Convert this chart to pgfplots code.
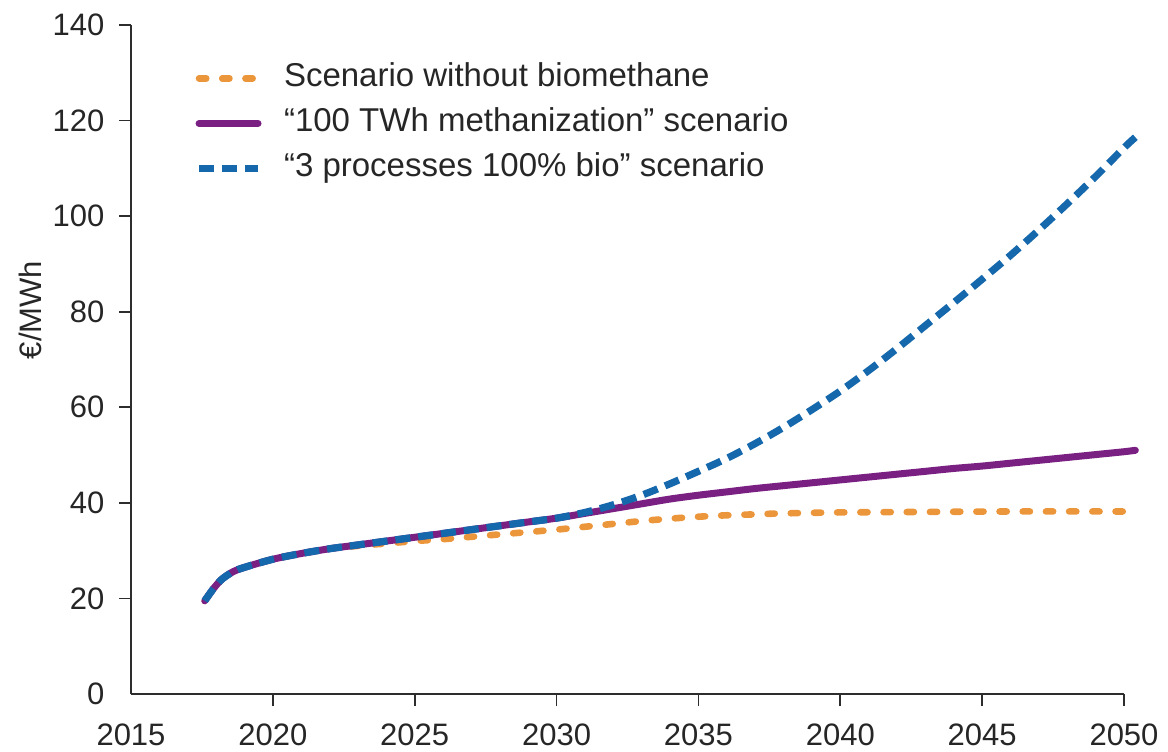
\documentclass[border=0pt]{standalone}
\usepackage{fontspec}
\setmainfont{Liberation Sans}
\usepackage{pgfplots}
\pgfplotsset{compat=1.18}
\definecolor{corange}{RGB}{236,150,60}
\definecolor{cpurple}{RGB}{122,32,130}
\definecolor{cblue}{RGB}{22,104,172}
\definecolor{caxis}{RGB}{45,45,45}
\begin{document}
\fontsize{15.5}{18}\selectfont
\begin{tikzpicture}
\begin{axis}[
  scale only axis,
  width=496.5pt, height=334.5pt,
  xmin=2015, xmax=2050, ymin=0, ymax=140,
  axis lines=left,
  axis line style={-, caxis, line width=0.9pt},
  every tick/.style={caxis, line width=0.9pt},
  tick align=outside,
  major tick length=6pt,
  xtick={2020,2025,...,2050},
  ytick={20,40,...,140},
  extra x ticks={2015},
  extra y ticks={0},
  extra tick style={major tick style={draw=none}},
  xticklabel style={/pgf/number format/1000 sep={}, text=black!85, yshift=-3.8pt},
  yticklabel style={text=black!85, xshift=-2pt},
  /pgf/number format/assume math mode=true,
  x tick label style={/pgf/number format/1000 sep={}},
  ylabel={€/MWh},
  ylabel style={at={(axis description cs:-0.1017,0.574)}, anchor=center, rotate=0, text=black!85},
  clip=false,
  legend cell align=left,
  legend style={draw=none, fill=none, inner sep=0pt,
    at={(axis description cs:0.0645,0.9537)}, anchor=north west,
    nodes={inner xsep=0pt, inner ysep=3.5pt, text height=11.5pt, text depth=3.5pt, text=black!85, font=\fontsize{16.5}{19}\selectfont},
    row sep=0.5pt},
  legend image code/.code={\path[draw=none] (0pt,0pt) -- (44pt,0pt); \draw[#1] (1.5pt,0pt) -- (31pt,0pt);},
]
\addplot[corange, line width=3.3pt, line cap=round, dash pattern=on 3.6pt off 8pt, smooth] coordinates {
(2017.6,19.5) (2017.9,22.0) (2018.2,24.0) (2018.6,25.6) (2019,26.5) (2020,28.2) (2021,29.4) (2022,30.4)
(2023,31.0) (2024,31.5) (2025,32.0) (2026,32.4) (2027,32.9) (2028,33.4) (2029,33.9) (2030,34.4)
(2031,35.0) (2032,35.6) (2033,36.2) (2034,36.7) (2035,37.1) (2036,37.4) (2037,37.6) (2038,37.8)
(2040,38.0) (2043,38.1) (2046,38.2) (2050.2,38.2)
};
\addlegendentry{Scenario without biomethane}
\addplot[cpurple, line width=3.5pt, line cap=round, smooth] coordinates {
(2017.6,19.5) (2017.9,22.0) (2018.2,24.0) (2018.6,25.6) (2019,26.5) (2020,28.2) (2021,29.4) (2022,30.4)
(2023,31.2) (2024,32.0) (2025,32.8) (2026,33.6) (2027,34.4) (2028,35.2) (2029,36.0) (2030,36.8)
(2031,37.8) (2032,38.8) (2033,39.8) (2034,40.8) (2035,41.6) (2036,42.3) (2037,43.0) (2038,43.6)
(2039,44.2) (2040,44.8) (2041,45.4) (2042,46.0) (2043,46.6) (2044,47.2) (2045,47.7) (2046,48.3)
(2047,48.9) (2048,49.5) (2049,50.1) (2050,50.7) (2050.4,51.0)
};
\addlegendentry{“100 TWh methanization” scenario}
\addplot[cblue, line width=3.6pt, dash pattern=on 7.5pt off 4pt, smooth] coordinates {
(2017.6,19.5) (2017.9,22.0) (2018.2,24.0) (2018.6,25.6) (2019,26.5) (2020,28.2) (2021,29.4) (2022,30.4)
(2023,31.2) (2024,32.0) (2025,32.8) (2026,33.6) (2027,34.4) (2028,35.2) (2029,36.0) (2030,36.8)
(2031,38.0) (2032,39.6) (2033,41.6) (2034,44.0) (2035,46.6) (2036,49.3) (2037,52.4) (2038,55.8)
(2039,59.5) (2040,63.4) (2041,67.7) (2042,72.3) (2043,77.1) (2044,81.9) (2045,86.8) (2046,91.8)
(2047,97.1) (2048,102.6) (2049,108.3) (2050,114.3) (2050.4,116.5)
};
\addlegendentry{“3 processes 100\% bio” scenario}
\end{axis}
\pgfresetboundingbox
\path[use as bounding box] ([shift={(-65.5pt,-28.5pt)}]current axis.south west) rectangle ++(584pt,375.5pt);
\end{tikzpicture}
\end{document}
